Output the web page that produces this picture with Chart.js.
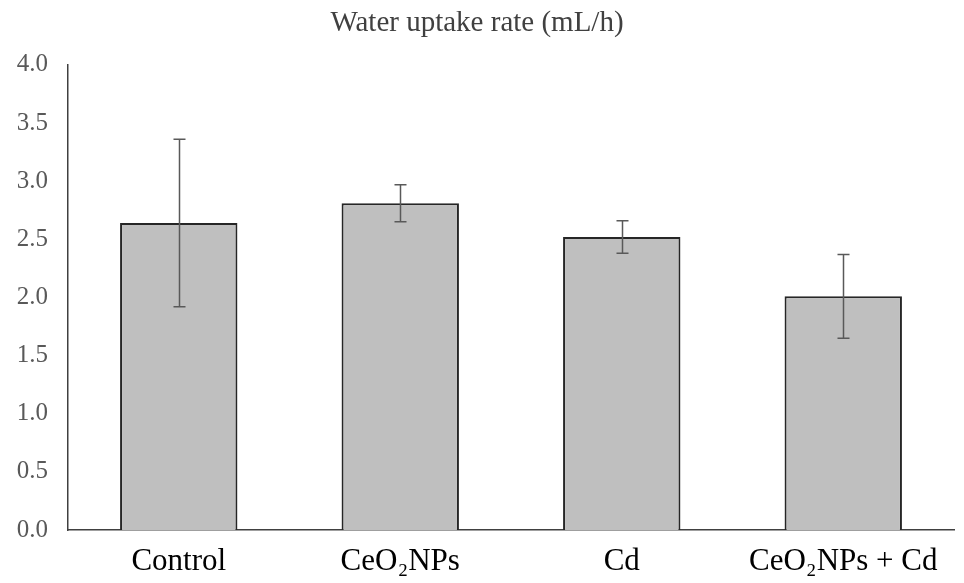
<!DOCTYPE html>
<html>
<head>
<meta charset="utf-8">
<script src="https://cdn.jsdelivr.net/npm/chart.js@4"></script>
<style>
  html, body { margin: 0; padding: 0; background: #fff; }
  #wrap { width: 964px; height: 583px; }
</style>
</head>
<body>
<div id="wrap"><canvas id="chart"></canvas></div>
<script>
// data
const categories = ['Control', 'CeO₂NPs', 'Cd', 'CeO₂NPs + Cd'];
const uptake = [2.64, 2.81, 2.52, 2.01];
const uptakeErr = [0.72, 0.16, 0.14, 0.36];
const yTicks = [0, 0.5, 1, 1.5, 2, 2.5, 3, 3.5, 4];

// draws +/- error bars on top of the bars
const errorBars = {
  id: 'errorBars',
  afterDatasetsDraw(chart) {
    const ctx = chart.ctx;
    const meta = chart.getDatasetMeta(0);
    const y = chart.scales.y;
    ctx.save();
    ctx.strokeStyle = '#595959';
    ctx.lineWidth = 1.5;
    meta.data.forEach(function(bar, i) {
      const top = y.getPixelForValue(uptake[i] + uptakeErr[i]);
      const bot = y.getPixelForValue(uptake[i] - uptakeErr[i]);
      const x = Math.round(bar.x) + 0.5;
      ctx.beginPath();
      ctx.moveTo(x, top);
      ctx.lineTo(x, bot);
      ctx.moveTo(x - 6, top);
      ctx.lineTo(x + 6, top);
      ctx.moveTo(x - 6, bot);
      ctx.lineTo(x + 6, bot);
      ctx.stroke();
    });
    ctx.restore();
  }
};

const serif = '"Liberation Serif", "Times New Roman", serif';

new Chart(document.getElementById('chart'), {
  type: 'bar',
  data: {
    labels: categories,
    datasets: [{
      data: uptake,
      backgroundColor: '#bfbfbf',
      borderColor: '#262626',
      borderWidth: 2,
      categoryPercentage: 1,
      barPercentage: 0.53
    }]
  },
  plugins: [errorBars],
  options: {
    responsive: true,
    maintainAspectRatio: false,
    animation: false,
    layout: { padding: { left: 0, right: 10, top: 0, bottom: 0 } },
    plugins: {
      legend: { display: false },
      tooltip: { enabled: false },
      title: {
        display: true,
        text: 'Water uptake rate (mL/h)',
        color: '#404040',
        font: { family: serif, size: 29, weight: 'normal', lineHeight: 1.1 },
        padding: { top: 7, bottom: 26 }
      }
    },
    scales: {
      x: {
        grid: { display: false, drawTicks: false },
        border: { display: true, color: '#404040', width: 1.5 },
        ticks: {
          color: '#000',
          padding: 13,
          font: { family: serif, size: 31 }
        },
        afterFit: function(scale) { scale.height = 53; }
      },
      y: {
        min: 0,
        max: 4,
        grid: { display: false, drawTicks: false },
        border: { display: true, color: '#404040', width: 1.5 },
        afterBuildTicks: function(scale) {
          scale.ticks = yTicks.map(v => ({ value: v }));
        },
        ticks: {
          color: '#595959',
          padding: 20,
          font: { family: serif, size: 25 },
          callback: v => Number(v).toFixed(1)
        },
        afterFit: function(scale) { scale.width = 68; }
      }
    }
  }
});
</script>
</body>
</html>
